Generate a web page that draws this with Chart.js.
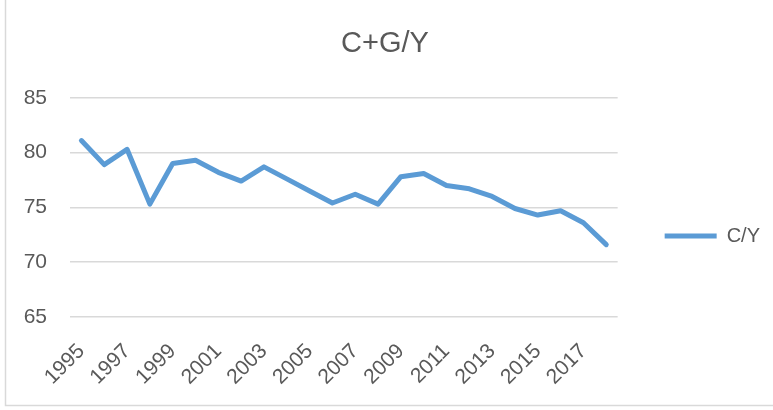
<!DOCTYPE html>
<html>
<head>
<meta charset="utf-8">
<script src="https://cdn.jsdelivr.net/npm/chart.js@4/dist/chart.umd.min.js"></script>
<style>
  html, body { margin: 0; padding: 0; background: #ffffff; }
  #wrap { width: 773px; height: 410px; position: relative; }
</style>
</head>
<body>
<div id="wrap"><canvas id="c" width="773" height="410"></canvas></div>
<script>
const chartTitle = "C+G/Y";
const seriesName = "C/Y";
const years = ["1995","1996","1997","1998","1999","2000","2001","2002","2003","2004","2005","2006",
               "2007","2008","2009","2010","2011","2012","2013","2014","2015","2016","2017","2018"];
const cyValues = [81.1, 78.9, 80.3, 75.3, 79.0, 79.3, 78.2, 77.4, 78.7, 77.6, 76.5, 75.4,
                  76.2, 75.3, 77.8, 78.1, 77.0, 76.7, 76.0, 74.9, 74.3, 74.7, 73.6, 71.6];
const yTicks = [65, 70, 75, 80, 85];

const textColor = "#595959";
const gridColor = "#d9d9d9";
const lineColor = "#5B9BD5";
const fontFamily = "'Liberation Sans', Arial, sans-serif";

const framePlugin = {
  id: "frame",
  beforeDraw(chart) {
    const ctx = chart.ctx;
    ctx.save();
    ctx.fillStyle = "#ffffff";
    ctx.fillRect(0, 0, chart.width, chart.height);
    ctx.strokeStyle = gridColor;
    ctx.lineWidth = 1.5;
    ctx.beginPath();
    ctx.moveTo(5.5, 0);
    ctx.lineTo(5.5, 405.5);
    ctx.lineTo(chart.width, 405.5);
    ctx.stroke();
    ctx.restore();
  }
};

const legendShift = {
  id: "legendShift",
  afterLayout(chart) {
    const l = chart.legend;
    if (l) { l.top += 31; l.bottom += 31; }
  }
};

new Chart(document.getElementById("c"), {
  type: "line",
  data: {
    labels: years,
    datasets: [{
      label: seriesName,
      data: cyValues,
      borderColor: lineColor,
      backgroundColor: lineColor,
      borderWidth: 5,
      borderCapStyle: "round",
      borderJoinStyle: "round",
      pointRadius: 0,
      pointHoverRadius: 0,
      tension: 0,
      fill: false
    }]
  },
  options: {
    responsive: false,
    animation: false,
    layout: { padding: { left: 0, right: 3, top: 0, bottom: 0 } },
    plugins: {
      title: {
        display: true,
        text: chartTitle,
        color: textColor,
        font: { family: fontFamily, size: 29, weight: "normal", lineHeight: 1.2 },
        padding: { top: 27, bottom: 36 }
      },
      legend: {
        display: true,
        position: "right",
        labels: {
          color: textColor,
          font: { family: fontFamily, size: 20 },
          usePointStyle: true,
          pointStyle: "line",
          pointStyleWidth: 52,
          boxWidth: 52,
          boxHeight: 20,
          padding: 47
        }
      },
      tooltip: { enabled: false }
    },
    scales: {
      x: {
        offset: true,
        grid: { display: false, drawTicks: false, offset: true },
        border: { display: false },
        ticks: {
          autoSkip: false,
          minRotation: 45,
          maxRotation: 45,
          padding: 22,
          color: textColor,
          font: { family: fontFamily, size: 21 },
          callback: function(value, index) { return index % 2 === 0 ? years[index] : ""; }
        },
        afterFit(scale) { scale.height = 93; }
      },
      y: {
        min: 65,
        max: 85,
        afterBuildTicks(scale) { scale.ticks = yTicks.map(v => ({ value: v })); },
        grid: { color: gridColor, lineWidth: 1.5, drawTicks: false },
        border: { display: false },
        ticks: {
          padding: 23,
          color: textColor,
          font: { family: fontFamily, size: 21 }
        },
        afterFit(scale) { scale.width = 70; }
      }
    }
  },
  plugins: [framePlugin, legendShift]
});
</script>
</body>
</html>
